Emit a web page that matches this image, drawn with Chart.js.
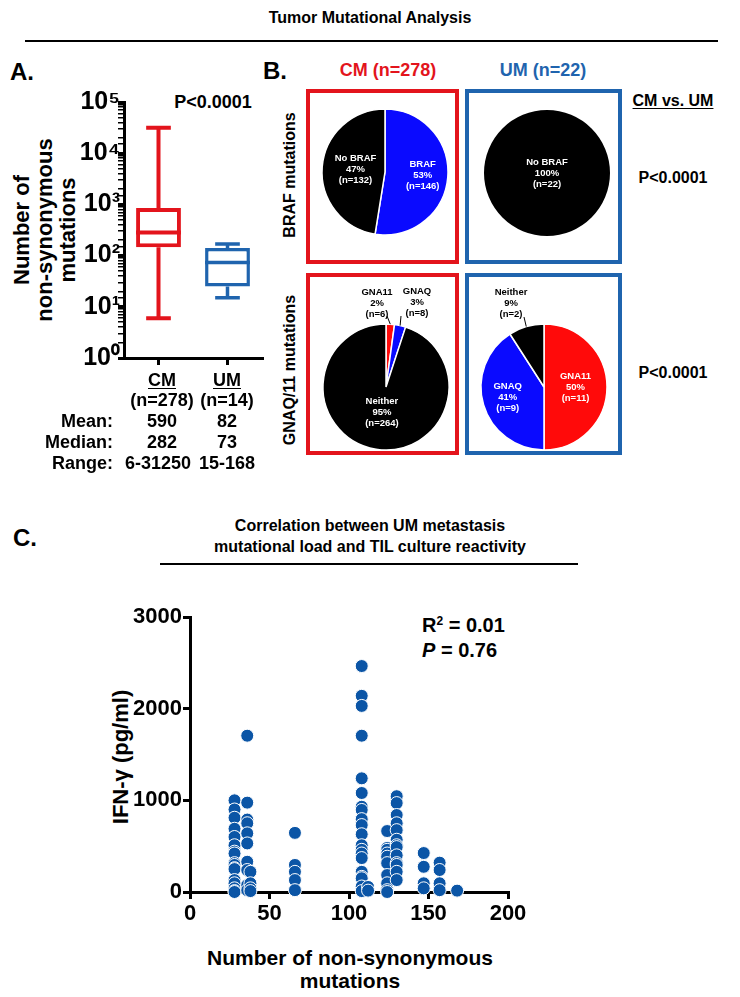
<!DOCTYPE html>
<html>
<head>
<meta charset="utf-8">
<script src="https://cdn.jsdelivr.net/npm/chart.js@4.4.1/dist/chart.umd.min.js"></script>
<style>
  body { margin: 0; width: 740px; height: 997px; position: relative; overflow: hidden; background: #fff;
         font-family: "Liberation Sans", Arial, sans-serif; font-weight: bold; color: #000; }
  .t { position: absolute; white-space: nowrap; line-height: 1; transform: translate(-50%, -50%); }
  .l { position: absolute; white-space: nowrap; line-height: 1; transform: translate(0, -50%); }
  .rt { position: absolute; white-space: nowrap; line-height: 1; transform: translate(-100%, -50%); }
  .rot { transform: translate(-50%, -50%) rotate(-90deg); text-align: center; }
  .u { text-decoration: underline; text-underline-offset: 2px; }
  canvas { position: absolute; }
  .frame { position: absolute; box-sizing: border-box; border: 4px solid; }
  .rule { position: absolute; height: 0; border-top: 2px solid #000; }
</style>
</head>
<body>
<div class="t" style="left:370px;top:18px;font-size:16px">Tumor Mutational Analysis</div>
<div class="rule" style="left:25px;top:40px;width:693px"></div>

<div class="t" style="left:22px;top:72px;font-size:24px">A.</div>
<div class="t" style="left:275px;top:71px;font-size:24px">B.</div>
<div class="t" style="left:25px;top:538px;font-size:24px">C.</div>

<!-- panel A -->
<div class="t" style="left:213px;top:102px;font-size:18px">P&lt;0.0001</div>
<div class="t rot" style="left:44px;top:230px;font-size:22px;line-height:23px">Number of<br>non-synonymous<br>mutations</div>
<canvas id="boxA" width="280" height="320" style="left:0;top:60px"></canvas>
<div id="tableA"></div>

<!-- panel B -->
<div class="t" style="left:388px;top:70px;font-size:18px;color:#e3141c">CM (n=278)</div>
<div class="t" style="left:543px;top:70px;font-size:18px;color:#1f64ae">UM (n=22)</div>
<div class="t u" style="left:673px;top:101px;font-size:16px">CM vs. UM</div>
<div class="t" style="left:673px;top:178px;font-size:16px">P&lt;0.0001</div>
<div class="t" style="left:673px;top:373px;font-size:16px">P&lt;0.0001</div>
<div class="t rot" style="left:290px;top:175px;font-size:16px">BRAF mutations</div>
<div class="t rot" style="left:290px;top:370px;font-size:16px">GNAQ/11 mutations</div>
<canvas id="pieBrafCM" width="153" height="175" style="left:306px;top:89px"></canvas>
<canvas id="pieBrafUM" width="157" height="175" style="left:465px;top:89px"></canvas>
<canvas id="pieGnaCM" width="153" height="182" style="left:306px;top:273px"></canvas>
<canvas id="pieGnaUM" width="157" height="182" style="left:465px;top:273px"></canvas>
<div class="frame" style="left:306px;top:89px;width:153px;height:175px;border-color:#e3141c"></div>
<div class="frame" style="left:465px;top:89px;width:157px;height:175px;border-color:#1f64ae"></div>
<div class="frame" style="left:306px;top:273px;width:153px;height:182px;border-color:#e3141c"></div>
<div class="frame" style="left:465px;top:273px;width:157px;height:182px;border-color:#1f64ae"></div>

<!-- panel C -->
<div class="t" style="left:370px;top:526px;font-size:16px">Correlation between UM metastasis</div>
<div class="t" style="left:370px;top:547px;font-size:16px">mutational load and TIL culture reactivity</div>
<div class="rule" style="left:160px;top:563px;width:418px"></div>
<div class="l" style="left:422px;top:625px;font-size:20px">R<sup style="font-size:12px;vertical-align:7px;line-height:0">2</sup> = 0.01</div>
<div class="l" style="left:422px;top:650px;font-size:20px"><i>P</i> = 0.76</div>
<div class="t rot" style="left:121px;top:757px;font-size:22px">IFN-γ (pg/ml)</div>
<div class="t" style="left:350px;top:957px;font-size:21px">Number of non-synonymous</div>
<div class="t" style="left:350px;top:980px;font-size:21px">mutations</div>
<canvas id="scatterC" width="430" height="340" style="left:100px;top:600px"></canvas>

<script>
// panel A: box plot summary per group
const groups = ['CM', 'UM'];
const groupN = [278, 14];
const groupMin = [6, 15];
const groupQ1 = [145, 25];
const groupMedian = [282, 73];
const groupQ3 = [850, 141];
const groupMax = [31250, 168];
const groupMean = [590, 82];
const groupColors = ['#e3141c', '#1f64ae'];
const logTicks = [1, 10, 100, 1000, 10000, 100000];

// panel B: mutation counts
const brafLabels = ['BRAF', 'No BRAF'];
const brafCM = [146, 132];
const brafUM = [0, 22];
const gnaLabels = ['GNA11', 'GNAQ', 'Neither'];
const gnaCM = [6, 8, 264];
const gnaUM = [11, 9, 2];

// panel C: IFN-gamma (pg/ml) for each mutational load
const mutLoad = [28, 36, 38, 66, 108, 112, 124, 130, 147, 157, 168];
const ifngByLoad = [
  [1000, 900, 810, 690, 600, 510, 440, 420, 315, 295, 260, 250, 130, 95, 40, 10, 0],
  [1705, 975, 790, 750, 640, 530, 330, 240, 75, 20],
  [220, 95, 40, 10],
  [645, 295, 220, 130, 20],
  [2465, 2140, 2030, 1705, 1240, 1080, 930, 895, 795, 730, 630, 510, 460, 420, 370, 220, 165, 150, 60, 10],
  [55, 15],
  [665, 480, 460, 420, 385, 315, 185, 95, 20, 0],
  [1045, 970, 840, 750, 675, 570, 510, 490, 400, 315, 295, 220, 130],
  [425, 275, 95, 40],
  [320, 240, 95, 20],
  [15]
];

const FONT = '"Liberation Sans", Arial, sans-serif';
Chart.defaults.font.family = FONT;
Chart.defaults.font.weight = 'bold';
Chart.defaults.color = '#000';

function addText(html, x, y, size, cls) {
  const d = document.createElement('div');
  d.className = cls;
  d.style.left = x + 'px';
  d.style.top = y + 'px';
  d.style.fontSize = size + 'px';
  d.innerHTML = html;
  document.getElementById('tableA').appendChild(d);
}

// table under the box plot
const colX = [162, 227];
groups.forEach((g, i) => {
  addText(g, colX[i], 380, 18, 't u');
  addText('(n=' + groupN[i] + ')', colX[i], 400, 18, 't');
  addText(String(groupMean[i]), colX[i], 421, 18, 't');
  addText(String(groupMedian[i]), colX[i], 442, 18, 't');
  addText(groupMin[i] + '-' + groupMax[i], colX[i] - (i === 0 ? 4 : 0), 463, 18, 't');
});
addText('Mean:', 113, 421, 18, 'rt');
addText('Median:', 113, 442, 18, 'rt');
addText('Range:', 113, 463, 18, 'rt');

const SUP = ['\u2070', '\u00b9', '\u00b2', '\u00b3', '\u2074', '\u2075'];

const boxWhiskers = {
  id: 'boxWhiskers',
  afterDatasetsDraw(chart) {
    const ctx = chart.ctx;
    const x = chart.scales.x, y = chart.scales.y;
    const meta = chart.getDatasetMeta(0);
    ctx.save();
    meta.data.forEach((bar, i) => {
      const cx = x.getPixelForValue(i);
      const half = bar.width / 2;
      const cap = half * 0.55;
      ctx.strokeStyle = groupColors[i];
      ctx.lineWidth = i === 0 ? 4 : 3.5;
      ctx.lineCap = 'butt';
      const yMed = y.getPixelForValue(groupMedian[i]);
      const yMin = y.getPixelForValue(groupMin[i]);
      const yMax = y.getPixelForValue(groupMax[i]);
      const yQ1 = y.getPixelForValue(groupQ1[i]);
      const yQ3 = y.getPixelForValue(groupQ3[i]);
      ctx.beginPath();
      ctx.moveTo(cx - half, yMed); ctx.lineTo(cx + half, yMed);
      ctx.moveTo(cx, yQ3); ctx.lineTo(cx, yMax);
      ctx.moveTo(cx - cap, yMax); ctx.lineTo(cx + cap, yMax);
      ctx.moveTo(cx, yQ1); ctx.lineTo(cx, yMin);
      ctx.moveTo(cx - cap, yMin); ctx.lineTo(cx + cap, yMin);
      ctx.stroke();
    });
    ctx.restore();
  }
};

new Chart(document.getElementById('boxA'), {
  type: 'bar',
  data: {
    labels: groups,
    datasets: [{
      data: groups.map((g, i) => [groupQ1[i], groupQ3[i]]),
      backgroundColor: '#fff',
      borderColor: groupColors,
      borderWidth: [4, 3.5],
      borderSkipped: false,
      barPercentage: 1,
      categoryPercentage: 0.65
    }]
  },
  options: {
    responsive: false,
    animation: false,
    events: [],
    layout: { padding: { top: 42, right: 18, left: 0, bottom: 0 } },
    plugins: { legend: { display: false }, tooltip: { enabled: false } },
    scales: {
      x: {
        ticks: { display: false },
        grid: { drawOnChartArea: false, offset: false, tickLength: 7, lineWidth: 3, color: '#000' },
        border: { width: 3, color: '#000' },
        afterFit: s => { s.height = 22; }
      },
      y: {
        type: 'logarithmic',
        min: 1,
        max: 100000,
        ticks: {
          autoSkip: false,
          padding: -2,
          font: { size: 25, weight: 'bold' },
          callback: v => {
            const k = logTicks.indexOf(Math.round(v * 1000) / 1000);
            return k >= 0 ? '10' + SUP[k] : '';
          }
        },
        grid: {
          drawOnChartArea: false,
          tickLength: 6,
          color: '#000',
          lineWidth: c => (c.tick && logTicks.indexOf(c.tick.value) >= 0 ? 3 : 1.5)
        },
        border: { width: 3, color: '#000' },
        afterFit: s => { s.width = 124; }
      }
    }
  },
  plugins: [boxWhiskers]
});

// pie labels: name, percentage and count
const sliceLabels = {
  id: 'sliceLabels',
  afterDatasetsDraw(chart, args, opts) {
    const ctx = chart.ctx;
    const values = chart.data.datasets[0].data;
    const total = values.reduce((a, b) => a + b, 0);
    ctx.save();
    ctx.font = 'bold 9.5px ' + FONT;
    ctx.textAlign = 'center';
    ctx.textBaseline = 'middle';
    chart.getDatasetMeta(0).data.forEach((arc, i) => {
      const v = values[i];
      if (!v) return;
      const p = arc.getProps(['x', 'y', 'startAngle', 'endAngle', 'outerRadius'], true);
      const mid = (p.startAngle + p.endAngle) / 2;
      const place = opts.place[i];
      let x, y;
      if (place.out) {
        x = p.x + place.out[0];
        y = p.y + place.out[1];
        ctx.strokeStyle = '#000';
        ctx.lineWidth = 1;
        ctx.beginPath();
        ctx.moveTo(x + place.lead[0], y + place.lead[1]);
        ctx.lineTo(p.x + Math.cos(mid) * p.outerRadius, p.y + Math.sin(mid) * p.outerRadius);
        ctx.stroke();
        ctx.fillStyle = '#000';
      } else {
        x = p.x + Math.cos(mid) * p.outerRadius * place.r;
        y = p.y + Math.sin(mid) * p.outerRadius * place.r;
        ctx.fillStyle = '#fff';
      }
      const lines = [chart.data.labels[i], Math.round(v / total * 100) + '%', '(n=' + v + ')'];
      lines.forEach((s, k) => ctx.fillText(s, x, y + (k - 1) * 11));
    });
    ctx.restore();
  }
};

function pieChart(id, labels, values, colors, center, place, border) {
  const canvas = document.getElementById(id);
  const a = center[0] - parseFloat(canvas.style.left);
  const b = center[1] - parseFloat(canvas.style.top);
  const w = canvas.width, h = canvas.height;
  const half = Math.min(a, w - a, b, h - b);
  new Chart(canvas, {
    type: 'pie',
    data: { labels: labels, datasets: [{ data: values, backgroundColor: colors, borderColor: '#fff', borderWidth: border }] },
    options: {
      responsive: false,
      animation: false,
      events: [],
      radius: 63,
      layout: { padding: { left: a - half, right: w - a - half, top: b - half, bottom: h - b - half } },
      plugins: { legend: { display: false }, tooltip: { enabled: false }, sliceLabels: { place: place } }
    },
    plugins: [sliceLabels]
  });
}

const RED = '#ff0a0a', BLUE = '#0a0aff', BLACK = '#000';
pieChart('pieBrafCM', brafLabels, brafCM, [BLUE, BLACK], [385, 172],
  [{ r: 0.6 }, { r: 0.47 }], 1.5);
pieChart('pieBrafUM', brafLabels, brafUM, [BLUE, BLACK], [547, 173],
  [{ r: 0 }, { r: 0 }], 0);
pieChart('pieGnaCM', gnaLabels, gnaCM, [RED, BLUE, BLACK], [386, 387],
  [{ out: [-9, -84], lead: [10, 13] }, { out: [31, -85], lead: [-16, 14] }, { r: 0.41 }], 1.5);
pieChart('pieGnaUM', gnaLabels, gnaUM, [RED, BLUE, BLACK], [544, 387],
  [{ r: 0.5 }, { r: 0.6 }, { out: [-33, -84], lead: [13, 14] }], 1.5);

// panel C scatter
const points = [];
mutLoad.forEach((m, i) => ifngByLoad[i].forEach(v => points.push({ x: m, y: v })));

new Chart(document.getElementById('scatterC'), {
  type: 'scatter',
  data: {
    datasets: [{
      data: points,
      pointRadius: 6.5,
      pointBackgroundColor: '#0b55a6',
      pointBorderColor: '#fff',
      pointBorderWidth: 1,
      clip: false
    }]
  },
  options: {
    responsive: false,
    animation: false,
    events: [],
    layout: { padding: { top: 17, right: 22, left: 0, bottom: 0 } },
    plugins: { legend: { display: false }, tooltip: { enabled: false } },
    scales: {
      x: {
        min: 0,
        max: 200,
        ticks: { stepSize: 50, padding: 2, font: { size: 22, weight: 'bold' } },
        grid: { drawOnChartArea: false, tickLength: 7, lineWidth: 3, color: '#000' },
        border: { width: 3, color: '#000' },
        afterFit: s => { s.height = 48; }
      },
      y: {
        min: 0,
        max: 3000,
        ticks: { stepSize: 1000, padding: 1, font: { size: 22, weight: 'bold' }, callback: v => String(v) },
        grid: { drawOnChartArea: false, tickLength: 7, lineWidth: 3, color: '#000' },
        border: { width: 3, color: '#000' },
        afterFit: s => { s.width = 90; }
      }
    }
  }
});
</script>
</body>
</html>
